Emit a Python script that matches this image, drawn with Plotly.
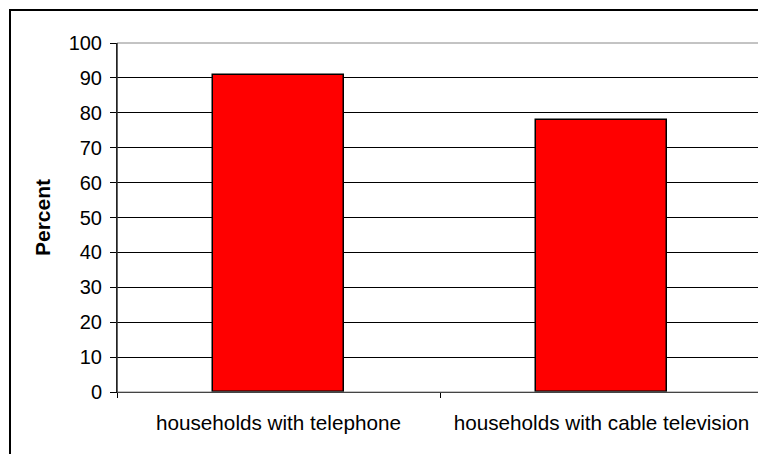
import plotly.graph_objects as go

categories = ["households with telephone", "households with cable television"]
percent_values = [90.8, 77.8]
y_ticks = [0, 10, 20, 30, 40, 50, 60, 70, 80, 90, 100]

# page body has an 8px margin, so figure is offset by (8, 8)
OFF = 8
W, H = 766 - OFF, 454 - OFF
ML, MR, MT, MB = 117 - OFF, 3, 43 - OFF, 62
pw = W - ML - MR
ph = H - MT - MB

fig = go.Figure(go.Bar(
    x=categories, y=percent_values,
    width=0.405,
    marker=dict(color="#FF0000", line=dict(color="#000000", width=1.5)),
))

font = dict(family="Arial, Liberation Sans, sans-serif", size=19, color="#000000")

fig.update_layout(
    width=W, height=H,
    margin=dict(l=ML, r=MR, t=MT, b=MB, pad=0),
    paper_bgcolor="#FFFFFF", plot_bgcolor="#FFFFFF",
    font=font,
    showlegend=False,
    bargap=0,
    xaxis=dict(
        showline=True, linecolor="#000000", linewidth=1,
        ticks="outside", tickson="boundaries", ticklen=5, tickcolor="#000000",
        showgrid=False, tickfont=dict(size=20.7),
        ticklabelstandoff=12,
    ),
    yaxis=dict(
        range=[0, 100], tickvals=y_ticks,
        showline=True, linecolor="#000000", linewidth=1,
        ticks="outside", ticklen=6, tickcolor="#000000",
        showgrid=True, gridcolor="#000000", gridwidth=1,
        zeroline=False,
        tickfont=dict(size=20),
        ticklabelstandoff=4,
        title=dict(text="<b>Percent</b>", font=dict(size=21), standoff=12),
    ),
    shapes=[
        dict(type="rect", xref="paper", yref="paper", x0=0, x1=1, y0=0, y1=1,
             line=dict(color="#888888", width=1), layer="above"),
        dict(type="line", xref="paper", yref="paper", x0=0, x1=0, y0=0, y1=1,
             line=dict(color="#000000", width=1), layer="above"),
        dict(type="rect", xref="paper", yref="paper",
             x0=(2 - ML) / pw, x1=1.2, y0=(MT + ph - 2) / ph, y1=-0.5,
             line=dict(color="#000000", width=2), layer="above"),
    ],
)

fig.write_html("out.html")
